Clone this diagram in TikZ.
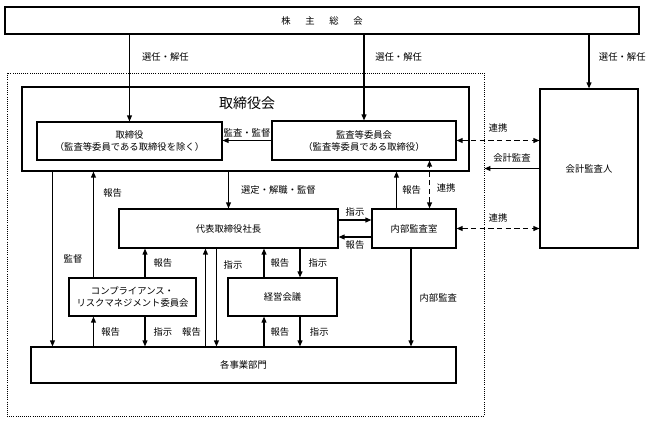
\documentclass[tikz,border=0pt]{standalone}
\usepackage{fontspec}
\setmainfont{Noto Sans CJK JP}
\usetikzlibrary{arrows.meta, calc, positioning}

\begin{document}
\begin{tikzpicture}[
		x=0.75pt, y=-0.75pt,
		font=\fontsize{7}{9}\selectfont,
		box/.style={draw, line width=0.8pt, inner sep=0pt, align=center},
		arr/.style={line width=0.9pt, -{Triangle[length=4.5pt,width=3.6pt]}},
		rarr/.style={line width=0.9pt, {Triangle[length=4.5pt,width=3.6pt]}-},
		link/.style={line width=0.9pt, dash pattern=on 4pt off 2.5pt,
			{Triangle[length=4.5pt,width=3.6pt]}-{Triangle[length=4.5pt,width=3.6pt]}},
		lbl/.style={inner sep=1pt}
	]
	\fill[white] (0,0) rectangle (648,422);

	% boxes
	\node[box, minimum width=475.5pt, minimum height=20.25pt] (kabu) at (322,20.5) {株\hspace{11pt}主\hspace{11pt}総\hspace{11pt}会};
	\node[draw, densely dotted, line width=0.6pt, inner sep=0pt, minimum width=357.75pt, minimum height=257.25pt] (kaisha) at (245.5,244.5) {};
	\node[box, minimum width=335.25pt, minimum height=63pt] (torikai) at (245.5,129) {};
	\node[font=\fontsize{10.5}{12}\selectfont] (torikaiT) at (247,103) {取締役会};
	\node[box, minimum width=138.75pt, minimum height=28.5pt] (tori) at (129.5,141) {取締役\\（監査等委員である取締役を除く）};
	\node[box, minimum width=138pt, minimum height=29.25pt] (kansa) at (364,140.5) {監査等委員会\\（監査等委員である取締役）};
	\node[box, minimum width=73.5pt, minimum height=119.25pt] (kaikei) at (589,168.5) {会計監査人};
	\node[box, minimum width=164.25pt, minimum height=29.25pt] (daihyo) at (228.5,228.5) {代表取締役社長};
	\node[box, minimum width=63pt, minimum height=29.25pt] (naibu) at (414,228.5) {内部監査室};
	\node[box, minimum width=95.25pt, minimum height=28.5pt] (comp) at (132.5,297) {コンプライアンス・\\リスクマネジメント委員会};
	\node[box, minimum width=81.75pt, minimum height=28.5pt] (keiei) at (282.5,297) {経営会議};
	\node[box, minimum width=318.75pt, minimum height=27pt] (jigyo) at (243.5,365) {各事業部門};

	% 株主総会から
	\draw[arr] (kabu.south -| tori.north) -- node[lbl, pos=0.26, right=8pt] {選任・解任} (tori.north);
	\draw[arr] (kabu.south -| kansa.north) -- node[lbl, pos=0.26, right=7pt] {選任・解任} (kansa.north);
	\draw[arr] (kabu.south -| kaikei.north) -- node[lbl, pos=0.42, right=6pt] {選任・解任} (kaikei.north);

	% 取締役会まわり
	\draw[arr] (kansa.west) -- node[lbl, above=1pt] {監査・監督} (kansa.west -| tori.east);
	\draw[link] (kansa.east) -- node[lbl, above=5pt] {連携} (kansa.east -| kaikei.west);
	\draw[arr] (kaikei.west) -- node[lbl, above=3pt] {会計監査} (kaikei.west -| kaisha.east);
	\draw[link] (naibu.east) -- node[lbl, above=3pt] {連携} (naibu.east -| kaikei.west);
	\draw[arr] ($(torikai.south west)+(31,0)$) coordinate (kt) -- node[lbl, right=7pt] {監督} (kt |- jigyo.north);
	\draw[arr] ($(comp.north west)+(25,0)$) coordinate (cr) -- node[lbl, pos=0.8, right=6pt] {報告} (cr |- torikai.south);
	\draw[arr] (torikai.south -| daihyo.north) -- node[lbl, right=8pt] {選定・解職・監督} (daihyo.north);
	\draw[arr] ($(naibu.north west)+(25,0)$) coordinate (nr) -- node[lbl, right=3pt] {報告} (nr |- torikai.south);
	\draw[link] ($(naibu.north east)+(-27,0)$) coordinate (nl) -- node[lbl, pos=0.43, right=4pt] {連携} (nl |- kansa.south);

	% 代表取締役社長と内部監査室
	\draw[arr] ($(daihyo.east)+(0,-8.5)$) coordinate (ds) -- node[lbl, above=1pt] {指示} (ds -| naibu.west);
	\draw[arr] ($(naibu.west)+(0,8.5)$) coordinate (nh) -- node[lbl, below=1pt] {報告} (nh -| daihyo.east);
	\draw[arr] ($(naibu.south)+(-3,0)$) coordinate (nk) -- node[lbl, right=5pt] {内部監査} (nk |- jigyo.north);

	% 代表取締役社長の下
	\draw[arr] ($(comp.north)+(12.5,0)$) coordinate (ch) -- node[lbl, right=5pt] {報告} (ch |- daihyo.south);
	\draw[arr] ($(jigyo.north west)+(175,0)$) coordinate (jh) -- node[lbl, pos=0.15, left=2pt] {報告} (jh |- daihyo.south);
	\draw[arr] ($(daihyo.south west)+(98,0)$) coordinate (dj) -- node[lbl, pos=0.17, right=4pt] {指示} (dj |- jigyo.north);
	\draw[arr] ($(keiei.north)+(-18.5,0)$) coordinate (kh) -- node[lbl, right=3.5pt] {報告} (kh |- daihyo.south);
	\draw[rarr] ($(keiei.north)+(17.5,0)$) coordinate (ks) -- node[lbl, right=5pt] {指示} (ks |- daihyo.south);

	% 各事業部門との間
	\draw[rarr] ($(comp.south west)+(25,0)$) coordinate (cb) -- node[lbl, right=4.5pt] {報告} (cb |- jigyo.north);
	\draw[arr] ($(comp.south)+(12.5,0)$) coordinate (cs) -- node[lbl, right=5pt] {指示} (cs |- jigyo.north);
	\draw[rarr] ($(keiei.south)+(-18.5,0)$) coordinate (kb) -- node[lbl, right=3.5pt] {報告} (kb |- jigyo.north);
	\draw[arr] ($(keiei.south)+(17.5,0)$) coordinate (kd) -- node[lbl, right=6pt] {指示} (kd |- jigyo.north);
\end{tikzpicture}
\end{document}
